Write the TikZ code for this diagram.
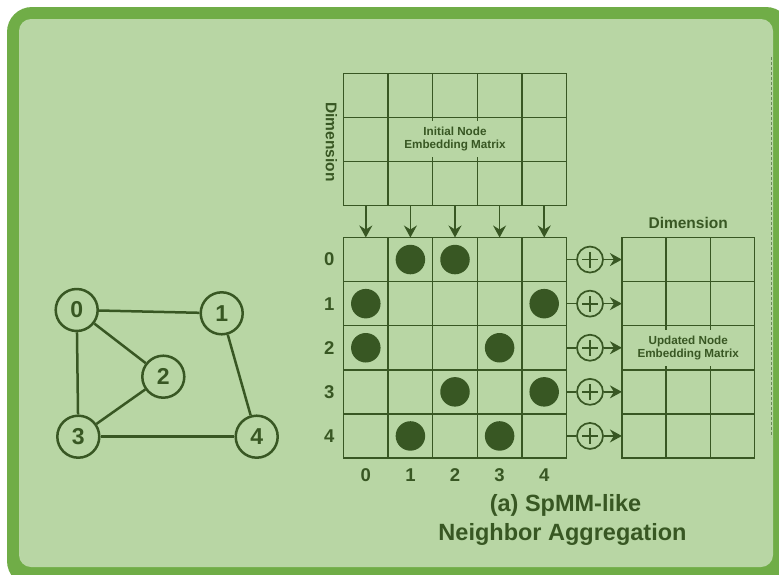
\documentclass[tikz,border=0pt]{standalone}
\usepackage{fontspec}
\setmainfont{Liberation Sans}
\usetikzlibrary{arrows.meta}
\definecolor{frameGreen}{HTML}{70AD47}
\definecolor{panelGreen}{HTML}{B8D6A4}
\definecolor{inkGreen}{HTML}{385723}
\definecolor{seamGreen}{HTML}{6A8A58}

\begin{document}
\begin{tikzpicture}[x=1pt,y=-1pt,
  cell/.style={draw=inkGreen, line width=1.5pt, minimum width=44.6pt, minimum height=44pt,
    inner sep=0pt, outer sep=0pt, text=inkGreen, align=center,
    font=\fontsize{11.7}{13.3}\selectfont\bfseries},
  outcell/.style={cell, minimum width=44.2pt, minimum height=44.1pt},
  dot/.style={circle, fill=inkGreen, minimum size=29.5pt, inner sep=0pt},
  plusnode/.style={circle, draw=inkGreen, line width=1.7pt, minimum size=26pt, inner sep=0pt,
    path picture={
      \draw[inkGreen, line width=1.7pt]
        ([xshift=-8pt]path picture bounding box.center) -- ([xshift=8pt]path picture bounding box.center)
        ([yshift=-8pt]path picture bounding box.center) -- ([yshift=8pt]path picture bounding box.center);}},
  gnode/.style={circle, draw=inkGreen, line width=2.5pt, minimum size=42pt, inner sep=0pt,
    text=inkGreen, font=\fontsize{23}{23}\selectfont\bfseries},
  gedge/.style={draw=inkGreen, line width=2.5pt},
  link/.style={draw=inkGreen, line width=1.6pt},
  feed/.style={link, -{Stealth[length=12pt,width=13pt,inset=4pt]}},
  idx/.style={text=inkGreen, font=\fontsize{18.5}{18.5}\selectfont\bfseries, inner sep=0pt},
  heading/.style={text=inkGreen, font=\fontsize{15.5}{15.5}\selectfont\bfseries, inner sep=0pt},
  caption/.style={text=inkGreen, font=\fontsize{23.5}{23.5}\selectfont\bfseries, inner sep=0pt, anchor=base},
  tick/.style={draw=inkGreen, line width=1.5pt}
]
\useasboundingbox (0,0) rectangle (779,574);

% panel with its thick rounded border
\begin{scope}
  \clip (0,0) rectangle (779,574);
  \fill[white] (0,0) rectangle (779,574);
  \fill[frameGreen, rounded corners=25pt] (7,7) rectangle (791,586);
  \fill[panelGreen, rounded corners=12pt] (19,19) rectangle (773,567);
  \draw[seamGreen, line width=1.6pt, dash pattern=on 3pt off 2pt] (771.6,57) -- (771.6,437);
\end{scope}

% ---- graph ----
\node[gnode] (G0) at (76.7,310) {0};
\node[gnode] (G1) at (221.7,313.3) {1};
\node[gnode] (G2) at (163.3,376.7) {2};
\node[gnode] (G3) at (78.3,436.7) {3};
\node[gnode] (G4) at (256.7,436.7) {4};
\draw[gedge] (G0) -- (G1);
\draw[gedge] (G0) -- (G2);
\draw[gedge] (G0) -- (G3);
\draw[gedge] (G2) -- (G3);
\draw[gedge] (G3) -- (G4);
\draw[gedge] (G1) -- (G4);

% ---- initial node embedding matrix ----
\foreach \r/\y in {0/95.3,2/183.3}
  \foreach \c in {0,...,4}
    \node[cell] (T-\r-\c) at ({365.8+44.6*\c},\y) {};
\node[cell] (T-1-0) at (365.8,139.3) {};
\node[cell, minimum width=133.8pt] (T-1-m) at (455,139.3) {Initial Node\\Embedding Matrix};
\node[cell] (T-1-4) at (544.2,139.3) {};
\foreach \c in {2,3} {
  \draw[tick] (T-1-m.north -| T-0-\c.west) -- ++(0,4);
  \draw[tick] (T-1-m.south -| T-2-\c.west) -- ++(0,-4);
}
\node[heading, rotate=-90] (dimL) at (331.5,142) {Dimension};

% ---- adjacency matrix ----
\foreach \r in {0,...,4}
  \foreach \c in {0,...,4}
    \node[cell, minimum height=44.1pt] (M-\r-\c) at ({365.8+44.6*\c},{259.55+44.1*\r}) {};
\foreach \r/\c in {0/1,0/2,1/0,1/4,2/0,2/3,3/2,3/4,4/1,4/3}
  \node[dot] (D-\r-\c) at (M-\r-\c.center) {};
\foreach \c in {0,...,4}
  \draw[feed] (T-2-\c.south) -- (M-0-\c.north);
\foreach \r in {0,...,4}
  \node[idx] (row-\r) at (329.3,{259.55+44.1*\r}) {\r};
\foreach \c in {0,...,4}
  \node[idx] (col-\c) at ({365.8+44.6*\c},475.5) {\c};

% ---- updated node embedding matrix ----
\foreach \r in {0,1,3,4}
  \foreach \c in {0,1,2}
    \node[outcell] (O-\r-\c) at ({644+44.2*\c},{259.55+44.1*\r}) {};
\node[outcell, minimum width=132.6pt] (O-2-0) at (688.2,347.75) {Updated Node\\Embedding Matrix};
\foreach \c in {1,2} {
  \draw[tick] (O-2-0.north -| O-1-\c.west) -- ++(0,4);
  \draw[tick] (O-2-0.south -| O-3-\c.west) -- ++(0,-4);
}
\node[heading] (dimR) at (688.2,223) {Dimension};

% ---- row-wise accumulation ----
\foreach \r in {0,...,4} {
  \node[plusnode] (P-\r) at (590,{259.55+44.1*\r}) {};
  \draw[link] (M-\r-4.east) -- (P-\r);
  \draw[feed] (P-\r) -- (O-\r-0.west);
}

% ---- caption ----
\node[caption] (cap1) at (565.5,511.7) {(a) SpMM-like};
\node[caption] (cap2) at (562.5,540) {Neighbor Aggregation};
\end{tikzpicture}
\end{document}
